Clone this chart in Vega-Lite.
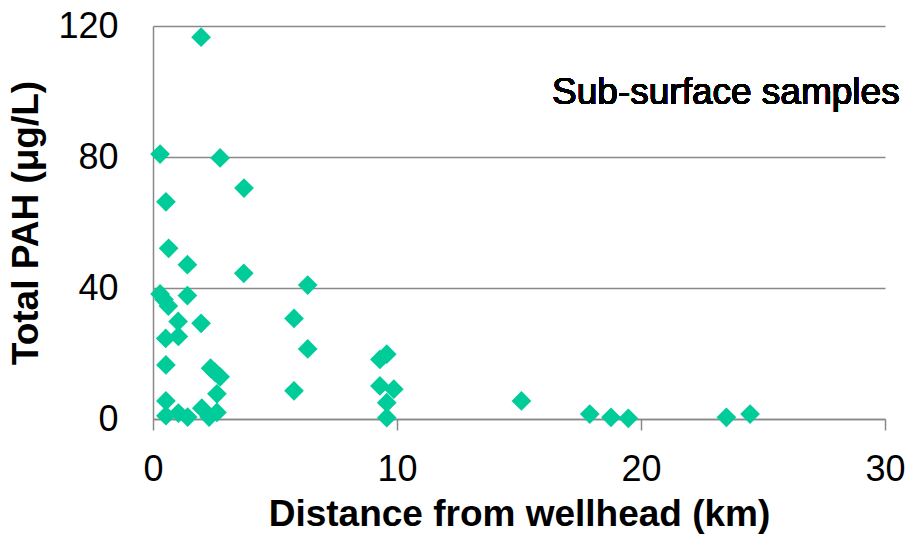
{
  "$schema": "https://vega.github.io/schema/vega-lite/v6.json",
  "autosize": "none",
  "width": 732,
  "height": 393,
  "padding": {"left": 153, "top": 26, "right": 24, "bottom": 115},
  "background": "white",
  "config": {
    "font": "Liberation Sans",
    "view": {"stroke": null}
  },
  "data": {
    "values": [
      {"distance": 1.97, "pah": 116.6},
      {"distance": 0.29, "pah": 80.9},
      {"distance": 2.75, "pah": 79.7},
      {"distance": 3.73, "pah": 70.5},
      {"distance": 0.53, "pah": 66.3},
      {"distance": 0.64, "pah": 52.1},
      {"distance": 1.41, "pah": 47.1},
      {"distance": 3.72, "pah": 44.5},
      {"distance": 6.34, "pah": 40.9},
      {"distance": 0.29, "pah": 38.2},
      {"distance": 0.45, "pah": 36.5},
      {"distance": 0.63, "pah": 34.5},
      {"distance": 1.41, "pah": 37.7},
      {"distance": 1.03, "pah": 29.8},
      {"distance": 1.97, "pah": 29.2},
      {"distance": 5.78, "pah": 30.7},
      {"distance": 0.52, "pah": 24.6},
      {"distance": 1.04, "pah": 25.2},
      {"distance": 6.34, "pah": 21.4},
      {"distance": 0.53, "pah": 16.5},
      {"distance": 2.36, "pah": 15.5},
      {"distance": 2.55, "pah": 14.2},
      {"distance": 2.75, "pah": 12.9},
      {"distance": 2.62, "pah": 7.7},
      {"distance": 5.78, "pah": 8.6},
      {"distance": 9.3, "pah": 18.2},
      {"distance": 9.58, "pah": 19.8},
      {"distance": 9.3, "pah": 10.1},
      {"distance": 9.87, "pah": 9.1},
      {"distance": 9.58, "pah": 5.0},
      {"distance": 9.58, "pah": 0.4},
      {"distance": 0.53, "pah": 5.5},
      {"distance": 0.53, "pah": 1.0},
      {"distance": 1.04, "pah": 1.8},
      {"distance": 1.42, "pah": 0.6},
      {"distance": 2.0, "pah": 3.3},
      {"distance": 2.3, "pah": 0.6},
      {"distance": 2.62, "pah": 2.0},
      {"distance": 15.1, "pah": 5.5},
      {"distance": 17.9, "pah": 1.5},
      {"distance": 18.77, "pah": 0.5},
      {"distance": 19.48, "pah": 0.2},
      {"distance": 23.5, "pah": 0.5},
      {"distance": 24.47, "pah": 1.5}
    ]
  },
  "layer": [
    {
      "mark": {"type": "point", "shape": "diamond", "filled": true, "size": 390, "color": "#00CC99", "opacity": 1},
      "encoding": {
        "x": {
          "field": "distance", "type": "quantitative",
          "scale": {"domain": [0, 30], "nice": false, "zero": true},
          "axis": {
            "title": "Distance from wellhead (km)",
            "values": [0, 10, 20, 30],
            "grid": false,
            "domainColor": "#898989", "domainWidth": 1.5,
            "tickColor": "#898989", "tickWidth": 1.5, "tickSize": 11,
            "labelFont": "Liberation Sans", "labelFontSize": 36, "labelColor": "black",
            "labelPadding": 22, "labelFlush": false,
            "titleFont": "Liberation Sans", "titleFontSize": 37, "titleFontWeight": "bold", "titleColor": "black",
            "titlePadding": 9
          }
        },
        "y": {
          "field": "pah", "type": "quantitative",
          "scale": {"domain": [0, 120], "nice": false},
          "axis": {
            "title": "Total PAH (μg/L)",
            "values": [0, 40, 80, 120],
            "grid": true, "gridColor": "#898989", "gridWidth": 1.5,
            "domainColor": "#898989", "domainWidth": 1.5,
            "ticks": false, "tickSize": 0,
            "labelFont": "Liberation Sans", "labelFontSize": 36, "labelColor": "black",
            "labelPadding": 35, "labelFlush": false,
            "titleFont": "Liberation Sans", "titleFontSize": 37, "titleFontWeight": "bold", "titleColor": "black",
            "titlePadding": 12
          }
        }
      }
    },
    {
      "mark": {"type": "text", "align": "right", "baseline": "alphabetic", "fontSize": 37, "font": "Liberation Sans", "color": "black"},
      "encoding": {
        "x": {"datum": 30.6, "type": "quantitative"},
        "y": {"datum": 96.2, "type": "quantitative"},
        "text": {"value": "Sub-surface samples"}
      }
    }
  ]
}
